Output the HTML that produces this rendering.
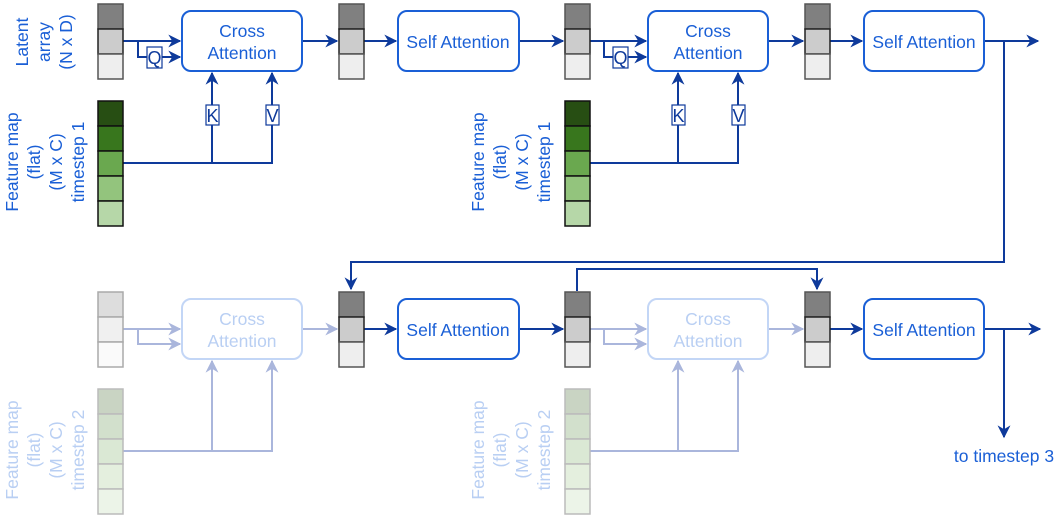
<!DOCTYPE html>
<html><head><meta charset="utf-8"><style>
html,body{margin:0;padding:0;background:#fff;}
svg{display:block;font-family:"Liberation Sans",Arial,sans-serif;}
</style></head><body>
<svg width="1062" height="515" viewBox="0 0 1062 515" xmlns="http://www.w3.org/2000/svg">
<defs>
<marker id="a" viewBox="0 0 10 10" refX="9" refY="5" markerWidth="13" markerHeight="13" markerUnits="userSpaceOnUse" orient="auto"><path d="M0,0 L10,5 L0,10 L3,5 z" fill="#0e3a9b"/></marker>
<marker id="f" viewBox="0 0 10 10" refX="9" refY="5" markerWidth="13" markerHeight="13" markerUnits="userSpaceOnUse" orient="auto"><path d="M0,0 L10,5 L0,10 L3,5 z" fill="#aab6dc"/></marker>
<g id="stack">
<rect x="0" y="0" width="25" height="25" fill="#808080" stroke="#555" stroke-width="1.5"/>
<rect x="0" y="25" width="25" height="25" fill="#cccccc" stroke="#222" stroke-width="1.5"/>
<rect x="0" y="50" width="25" height="25" fill="#eeeeee" stroke="#555" stroke-width="1.5"/>
</g>
<g id="feat">
<rect x="0" y="0" width="25" height="25" fill="#274e13" stroke="#111" stroke-width="1.5"/>
<rect x="0" y="25" width="25" height="25" fill="#38761d" stroke="#111" stroke-width="1.5"/>
<rect x="0" y="50" width="25" height="25" fill="#6aa84f" stroke="#111" stroke-width="1.5"/>
<rect x="0" y="75" width="25" height="25" fill="#93c47d" stroke="#111" stroke-width="1.5"/>
<rect x="0" y="100" width="25" height="25" fill="#b6d7a8" stroke="#111" stroke-width="1.5"/>
</g>
<g id="ffeat">
<rect x="0" y="0" width="25" height="25" fill="#c9d4c3" stroke="#bbb" stroke-width="1.5"/>
<rect x="0" y="25" width="25" height="25" fill="#d2e0cc" stroke="#bbb" stroke-width="1.5"/>
<rect x="0" y="50" width="25" height="25" fill="#dae8d4" stroke="#bbb" stroke-width="1.5"/>
<rect x="0" y="75" width="25" height="25" fill="#e4efde" stroke="#bbb" stroke-width="1.5"/>
<rect x="0" y="100" width="25" height="25" fill="#ecf4e8" stroke="#bbb" stroke-width="1.5"/>
</g>
<g id="fstack">
<rect x="0" y="0" width="25" height="25" fill="#dddddd" stroke="#aaa" stroke-width="1.5"/>
<rect x="0" y="25" width="25" height="25" fill="#f0f0f0" stroke="#aaa" stroke-width="1.5"/>
<rect x="0" y="50" width="25" height="25" fill="#fafafa" stroke="#aaa" stroke-width="1.5"/>
</g>
</defs>

<!-- labels -->
<g fill="#1a5fd6" font-size="17.5" text-anchor="middle">
<g transform="translate(44,42) rotate(-90)"><text x="0" y="-16">Latent</text><text x="0" y="6">array</text><text x="0" y="28">(N x D)</text></g>
<g transform="translate(46,162) rotate(-90)"><text x="0" y="-28">Feature map</text><text x="0" y="-6">(flat)</text><text x="0" y="16">(M x C)</text><text x="0" y="38">timestep 1</text></g>
<g transform="translate(512,162) rotate(-90)"><text x="0" y="-28">Feature map</text><text x="0" y="-6">(flat)</text><text x="0" y="16">(M x C)</text><text x="0" y="38">timestep 1</text></g>
</g>
<g fill="#b9cff3" font-size="17.5" text-anchor="middle">
<g transform="translate(46,450) rotate(-90)"><text x="0" y="-28">Feature map</text><text x="0" y="-6">(flat)</text><text x="0" y="16">(M x C)</text><text x="0" y="38">timestep 2</text></g>
<g transform="translate(512,450) rotate(-90)"><text x="0" y="-28">Feature map</text><text x="0" y="-6">(flat)</text><text x="0" y="16">(M x C)</text><text x="0" y="38">timestep 2</text></g>
</g>

<!-- top row dark connectors -->
<g stroke="#0e3a9b" stroke-width="2" fill="none">
<path d="M123,41 H180" marker-end="url(#a)"/>
<path d="M138,41 V57 H180" marker-end="url(#a)"/>
<path d="M123,163 H272 V73" marker-end="url(#a)"/>
<path d="M212,163 V73" marker-end="url(#a)"/>
<path d="M302,41 H337" marker-end="url(#a)"/>
<path d="M364,41 H396" marker-end="url(#a)"/>
<path d="M519,41 H563" marker-end="url(#a)"/>
<path d="M589,41 H646" marker-end="url(#a)"/>
<path d="M604,41 V57 H646" marker-end="url(#a)"/>
<path d="M589,163 H738 V73" marker-end="url(#a)"/>
<path d="M678,163 V73" marker-end="url(#a)"/>
<path d="M768,41 H803" marker-end="url(#a)"/>
<path d="M830,41 H862" marker-end="url(#a)"/>
<path d="M984,41 H1038" marker-end="url(#a)"/>
<path d="M1004,41 V262 H351 V289" marker-end="url(#a)"/>
<path d="M364,329 H396" marker-end="url(#a)"/>
<path d="M519,329 H563" marker-end="url(#a)"/>
<path d="M577,291 V269 H817 V289" marker-end="url(#a)"/>
<path d="M830,329 H862" marker-end="url(#a)"/>
<path d="M984,329 H1040" marker-end="url(#a)"/>
<path d="M1004,329 V437" marker-end="url(#a)"/>
</g>
<!-- faded connectors -->
<g stroke="#aab6dc" stroke-width="2" fill="none">
<path d="M123,329 H180" marker-end="url(#f)"/>
<path d="M138,329 V344 H180" marker-end="url(#f)"/>
<path d="M123,451 H272 V361" marker-end="url(#f)"/>
<path d="M212,451 V361" marker-end="url(#f)"/>
<path d="M302,329 H337" marker-end="url(#f)"/>
<path d="M589,329 H646" marker-end="url(#f)"/>
<path d="M604,329 V344 H646" marker-end="url(#f)"/>
<path d="M589,451 H738 V361" marker-end="url(#f)"/>
<path d="M678,451 V361" marker-end="url(#f)"/>
<path d="M768,329 H803" marker-end="url(#f)"/>
</g>

<!-- stacks -->
<use href="#stack" x="98" y="4"/>
<use href="#stack" x="339" y="4"/>
<use href="#stack" x="565" y="4"/>
<use href="#stack" x="805" y="4"/>
<use href="#feat" x="98" y="101"/>
<use href="#feat" x="565" y="101"/>
<use href="#fstack" x="98" y="292"/>
<use href="#stack" x="339" y="292"/>
<use href="#stack" x="565" y="292"/>
<use href="#stack" x="805" y="292"/>
<use href="#ffeat" x="98" y="389"/>
<use href="#ffeat" x="565" y="389"/>

<!-- boxes -->
<g fill="#fff" stroke="#1a5fd6" stroke-width="2">
<rect x="182" y="11" width="120" height="60" rx="9"/>
<rect x="398" y="11" width="121" height="60" rx="9"/>
<rect x="648" y="11" width="120" height="60" rx="9"/>
<rect x="864" y="11" width="120" height="60" rx="9"/>
<rect x="398" y="299" width="121" height="60" rx="9"/>
<rect x="864" y="299" width="120" height="60" rx="9"/>
</g>
<g fill="#fff" stroke="#c3d6f6" stroke-width="2">
<rect x="182" y="299" width="120" height="60" rx="9"/>
<rect x="648" y="299" width="120" height="60" rx="9"/>
</g>
<g fill="#1a5fd6" font-size="17.5" text-anchor="middle">
<text x="242" y="37">Cross</text><text x="242" y="59">Attention</text>
<text x="708" y="37">Cross</text><text x="708" y="59">Attention</text>
<text x="458" y="48">Self Attention</text>
<text x="924" y="48">Self Attention</text>
<text x="458" y="336">Self Attention</text>
<text x="924" y="336">Self Attention</text>
<text x="1004" y="462">to timestep 3</text>
</g>
<g fill="#b9cff3" font-size="17.5" text-anchor="middle">
<text x="242" y="325">Cross</text><text x="242" y="347">Attention</text>
<text x="708" y="325">Cross</text><text x="708" y="347">Attention</text>
</g>

<!-- Q K V labels -->
<g fill="#fff" stroke="#0e3a9b" stroke-width="1.2">
<rect x="147" y="47" width="15" height="21"/>
<rect x="613" y="47" width="15" height="21"/>
<rect x="206" y="105" width="13" height="20"/>
<rect x="266" y="105" width="13" height="20"/>
<rect x="672" y="105" width="13" height="20"/>
<rect x="732" y="105" width="13" height="20"/>
</g>
<g fill="#0e3a9b" font-size="18" text-anchor="middle">
<text x="154.5" y="64">Q</text><text x="620.5" y="64">Q</text>
<text x="212.5" y="122">K</text><text x="272.5" y="122">V</text>
<text x="678.5" y="122">K</text><text x="738.5" y="122">V</text>
</g>
</svg>
</body></html>
